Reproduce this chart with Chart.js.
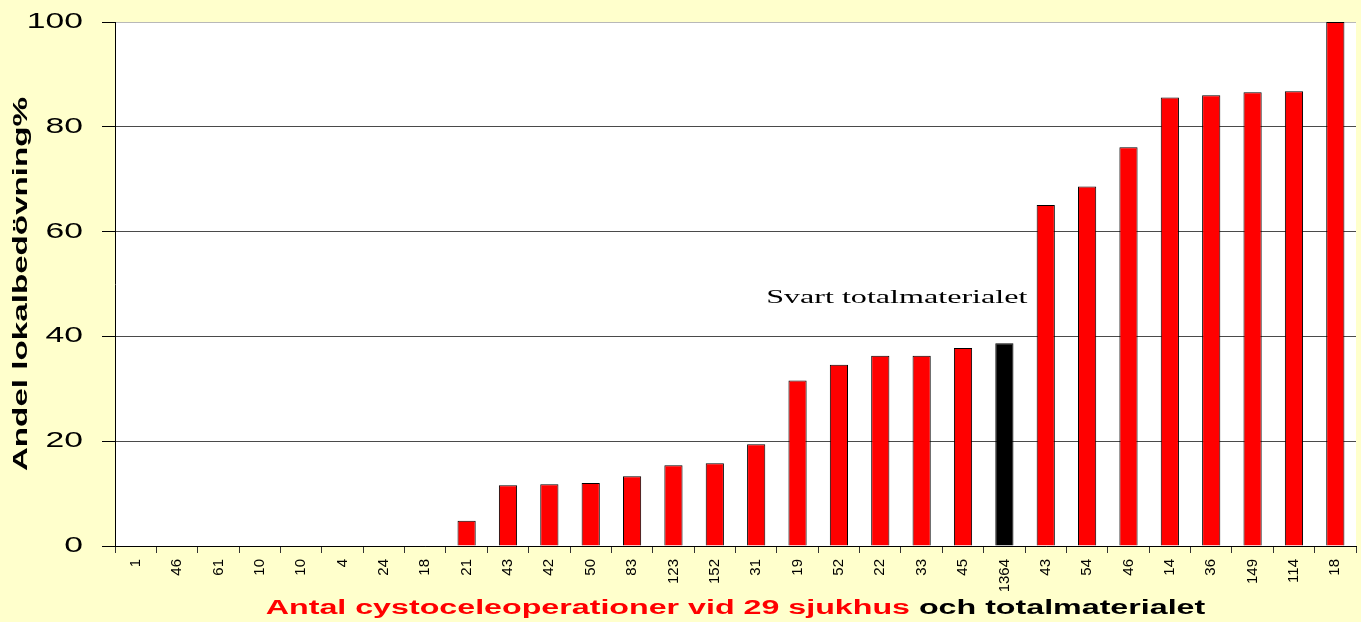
<!DOCTYPE html>
<html><head><meta charset="utf-8">
<script src="https://cdn.jsdelivr.net/npm/chart.js@4.4.1/dist/chart.umd.min.js"></script>
<style>html,body{margin:0;padding:0;background:#FFFFCC;overflow:hidden}canvas{display:block}</style>
</head><body>
<canvas id="c" width="1361" height="622"></canvas>
<script>
const categories = ['1','46','61','10','10','4','24','18','21','43','42','50','83','123','152','31','19','52','22','33','45','1364','43','54','46','14','36','149','114','18'];
const values = [0,0,0,0,0,0,0,0,4.8,11.6,11.8,12.0,13.3,15.4,15.8,19.4,31.6,34.6,36.3,36.3,37.8,38.7,65.1,68.6,76.1,85.6,86.0,86.6,86.8,100];
const totalLabel = '1364';
const yTicks = [0,20,40,60,80,100];
const yTitle = 'Andel lokalbedövning%';
const xTitleRed = 'Antal cystoceleoperationer vid 29 sjukhus ';
const xTitleBlack = 'och totalmaterialet';
const noteText = 'Svart totalmaterialet';
const noteValue = 46.4;

const SANS = "'Liberation Sans', Arial, sans-serif";
const SERIF = "'Liberation Serif', 'Times New Roman', serif";
Chart.defaults.font.family = SANS;

const canvas = document.getElementById('c');
const ctx = canvas.getContext('2d');
const rawFill = ctx.fillText.bind(ctx);
function stretchFor(font){
  const m = /(\d+(?:\.\d+)?)px/.exec(font);
  const px = m ? +m[1] : 12;
  if (/serif/i.test(font) && !/sans/i.test(font)) return 1.69;
  if (px >= 22) return 1.53;
  if (px >= 21) return 1.58;
  if (px >= 19) return 1.61;
  return 1;
}
ctx.fillText = function(t, x, y, mw){
  const s = stretchFor(ctx.font);
  if (s === 1) { return mw === undefined ? rawFill(t, x, y) : rawFill(t, x, y, mw); }
  ctx.save(); ctx.translate(x, y); ctx.scale(s, 1); rawFill(t, 0, 0); ctx.restore();
};

const decor = {
  id: 'decor',
  beforeDraw(chart){
    const a = chart.chartArea, c = chart.ctx;
    c.save(); c.fillStyle = '#FFFFFF'; c.fillRect(a.left, a.top, a.right - a.left, a.bottom - a.top); c.restore();
  },
  afterDraw(chart){
    const a = chart.chartArea, c = chart.ctx;
    c.save();
    c.font = 'bold 20px ' + SANS;
    c.textAlign = 'left'; c.textBaseline = 'alphabetic';
    const s = stretchFor(c.font);
    const w1 = c.measureText(xTitleRed).width * s;
    const w2 = c.measureText(xTitleBlack).width * s;
    const x0 = (a.left + a.right) / 2 - (w1 + w2) / 2;
    const y = chart.height - 8;
    c.fillStyle = '#FF0000'; c.fillText(xTitleRed, x0, y);
    c.fillStyle = '#000000'; c.fillText(xTitleBlack, x0 + w1, y);
    const idx = categories.indexOf(totalLabel);
    const bar = chart.getDatasetMeta(0).data[idx];
    c.font = '19px ' + SERIF;
    c.textAlign = 'right';
    c.fillStyle = '#000000';
    c.fillText(noteText, bar.x + 23, chart.scales.y.getPixelForValue(noteValue));
    c.restore();
  }
};

new Chart(ctx, {
  type: 'bar',
  data: {
    labels: categories,
    datasets: [{
      data: values,
      backgroundColor: categories.map(c => c === totalLabel ? '#000000' : '#FF0000'),
      borderColor: '#000000',
      borderWidth: 1,
      barPercentage: 0.44,
      categoryPercentage: 1
    }]
  },
  options: {
    responsive: false, animation: false, devicePixelRatio: 1,
    layout: { padding: { top: 22, right: 5, left: 0, bottom: 0 } },
    plugins: { legend: { display: false }, tooltip: { enabled: false } },
    scales: {
      x: {
        grid: { offset: true, drawOnChartArea: false, tickLength: 7, tickColor: '#333333' },
        border: { color: '#000000', width: 1 },
        ticks: { autoSkip: false, minRotation: 90, maxRotation: 90, padding: 6, color: '#000000', font: { size: 15 } },
        afterFit(s){ s.height = 76; }
      },
      y: {
        min: 0, max: 100,
        afterBuildTicks(s){ s.ticks = yTicks.map(v => ({ value: v })); },
        grid: { color: c => (c.tick && c.tick.value === 100) ? '#b8b8b8' : '#4a4a4a', tickColor: '#000000', tickLength: 13 },
        border: { color: '#000000', width: 1 },
        ticks: { padding: 19, color: '#000000', font: { size: 22 } },
        title: { display: true, text: yTitle, color: '#000000', font: { size: 21, weight: 'bold' }, padding: { top: 9, bottom: 0 } },
        afterFit(s){ s.width = 115; s.paddingTop = 0; s.paddingBottom = 0; }
      }
    }
  },
  plugins: [decor]
});
</script>
</body></html>
